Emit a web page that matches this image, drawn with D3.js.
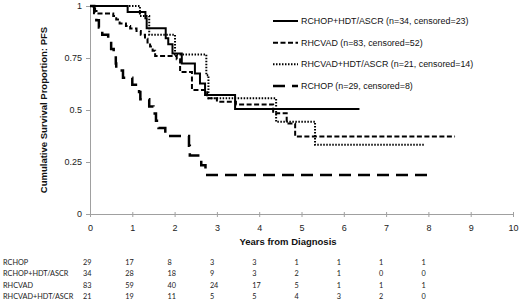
<!DOCTYPE html>
<html>
<head>
<meta charset="utf-8">
<script src="https://cdn.jsdelivr.net/npm/d3@7"></script>
<style>
  body { margin: 0; background: #fff; }
  svg { display: block; }
  .axis path, .axis line { stroke: #a0a0a0; }
  .axis text { font-family: "Liberation Sans", Arial, sans-serif; font-size: 9px; fill: #222; }
  .title { font-family: "Liberation Sans", Arial, sans-serif; font-size: 9.5px; font-weight: bold; fill: #111; }
  .legend text { font-family: "Liberation Sans", Arial, sans-serif; font-size: 8.9px; fill: #111; }
  .risk text { font-family: Lato, "Liberation Sans", sans-serif; font-size: 7.3px; fill: #222; }
</style>
</head>
<body>
<svg id="chart"></svg>
<script>
// Kaplan-Meier step points [years, proportion], last point = end of follow-up
var rchopHdt = [[0, 1], [0.89, 0.971], [1.31, 0.941], [1.34, 0.893], [1.79, 0.845], [1.85, 0.816],
  [1.95, 0.772], [2.17, 0.724], [2.48, 0.676], [2.60, 0.628], [2.72, 0.572], [3.43, 0.505], [6.37, 0.505]];
var rhcvad = [[0, 1], [0.08, 0.988], [0.12, 0.976], [0.2, 0.964], [0.55, 0.952], [0.62, 0.935],
  [0.7, 0.916], [0.85, 0.904], [0.95, 0.892], [1.1, 0.88], [1.2, 0.862], [1.3, 0.843], [1.36, 0.825],
  [1.42, 0.805], [1.48, 0.785], [1.54, 0.76], [2.05, 0.744], [2.13, 0.683], [2.41, 0.596],
  [2.77, 0.556], [3.0, 0.54], [3.45, 0.527], [4.33, 0.484], [4.65, 0.435], [4.85, 0.372], [8.63, 0.372]];
var rhcvadHdt = [[0, 1], [1.18, 0.952], [1.40, 0.862], [2.01, 0.767], [2.75, 0.667], [2.80, 0.556],
  [4.40, 0.444], [5.32, 0.333], [7.92, 0.333]];
var rchop = [[0, 1], [0.10, 0.966], [0.15, 0.931], [0.21, 0.897], [0.29, 0.862], [0.43, 0.828],
  [0.50, 0.793], [0.56, 0.759], [0.61, 0.724], [0.62, 0.690], [0.78, 0.655], [1.00, 0.621],
  [1.16, 0.586], [1.19, 0.552], [1.40, 0.517], [1.50, 0.483], [1.56, 0.448], [1.62, 0.414],
  [1.78, 0.375], [2.34, 0.328], [2.36, 0.281], [2.63, 0.234], [2.73, 0.1875], [8.04, 0.1875]];

var legendLabels = ["RCHOP+HDT/ASCR (n=34, censored=23)", "RHCVAD (n=83, censored=52)",
  "RHCVAD+HDT/ASCR (n=21, censored=14)", "RCHOP (n=29, censored=8)"];

var xTicks = [0, 1, 2, 3, 4, 5, 6, 7, 8, 9, 10];
var yTicks = [0, 0.25, 0.5, 0.75, 1];

// numbers at risk
var riskGroups = ["RCHOP", "RCHOP+HDT/ASCR", "RHCVAD", "RHCVAD+HDT/ASCR"];
var riskTimes = [0, 1, 2, 3, 4, 5, 6, 7, 8];
var riskRchop = [29, 17, 8, 3, 3, 1, 1, 1, 1];
var riskRchopHdt = [34, 28, 18, 9, 3, 2, 1, 0, 0];
var riskRhcvad = [83, 59, 40, 24, 17, 5, 1, 1, 1];
var riskRhcvadHdt = [21, 19, 11, 5, 5, 4, 3, 2, 0];

var width = 520, height = 301;
var margin = { top: 6, left: 90, right: 7, bottom: 87 };

var svg = d3.select("#chart").attr("width", width).attr("height", height);
svg.append("rect").attr("width", width).attr("height", height).attr("fill", "#fff");

var xScale = d3.scaleLinear().domain([0, 10]).range([margin.left, width - margin.right]);
var yScale = d3.scaleLinear().domain([0, 1]).range([height - margin.bottom, margin.top]);

// axes
svg.append("g")
  .attr("class", "axis")
  .attr("transform", "translate(0," + yScale(0) + ")")
  .call(d3.axisBottom(xScale).tickValues(xTicks).tickSize(3).tickPadding(8).tickSizeOuter(0))
  .call(function (g) { g.selectAll(".tick line").attr("y1", -2); });

svg.append("g")
  .attr("class", "axis")
  .attr("transform", "translate(" + xScale(0) + ",0)")
  .call(d3.axisLeft(yScale).tickValues(yTicks).tickSize(4).tickPadding(4).tickSizeOuter(0)
    .tickFormat(function (d) { return d3.format("")(d); }));

svg.append("text").attr("class", "title")
  .attr("x", 288).attr("y", 245).attr("text-anchor", "middle")
  .text("Years from Diagnosis");

svg.append("text").attr("class", "title")
  .attr("transform", "translate(47," + yScale(0.5) + ") rotate(-90)")
  .attr("text-anchor", "middle")
  .text("Cumulative Survival Proportion: PFS");

// curves
var series = [
  { data: rchopHdt, dash: null, w: 2 },
  { data: rhcvad, dash: "5,2.5", w: 2 },
  { data: rhcvadHdt, dash: "1.5,1.5", w: 2 },
  { data: rchop, dash: "12,7", w: 2.5 }
];

var line = d3.line()
  .x(function (d) { return xScale(d[0]); })
  .y(function (d) { return yScale(d[1]); })
  .curve(d3.curveStepAfter);

svg.selectAll(".km")
  .data(series.slice().reverse())
  .enter().append("path")
  .attr("class", "km")
  .attr("d", function (d) { return line(d.data); })
  .attr("fill", "none")
  .attr("stroke", "#000")
  .attr("stroke-width", function (d) { return d.w; })
  .attr("stroke-dasharray", function (d) { return d.dash; });

// legend
var legend = svg.append("g").attr("class", "legend");
var rowY = d3.scalePoint().domain(d3.range(legendLabels.length)).range([21, 86]);
series.forEach(function (s, i) {
  var y = rowY(i);
  legend.append("line")
    .attr("x1", 273).attr("x2", 298).attr("y1", y).attr("y2", y)
    .attr("stroke", "#000").attr("stroke-width", s.w)
    .attr("stroke-dasharray", s.dash);
  legend.append("text")
    .attr("x", 301).attr("y", y).attr("dy", "0.35em")
    .text(legendLabels[i]);
});

// number at risk table
var riskRows = [riskRchop, riskRchopHdt, riskRhcvad, riskRhcvadHdt];
var riskY = d3.scalePoint().domain(d3.range(riskGroups.length)).range([265, 299]);
var risk = svg.append("g").attr("class", "risk");
riskRows.forEach(function (row, i) {
  var y = riskY(i);
  risk.append("text").attr("x", 3).attr("y", y).text(riskGroups[i]);
  risk.selectAll(".n" + i)
    .data(row)
    .enter().append("text")
    .attr("x", function (d, j) { return xScale(riskTimes[j]) - 7; })
    .attr("y", y)
    .text(function (d) { return d; });
});
</script>
</body>
</html>
